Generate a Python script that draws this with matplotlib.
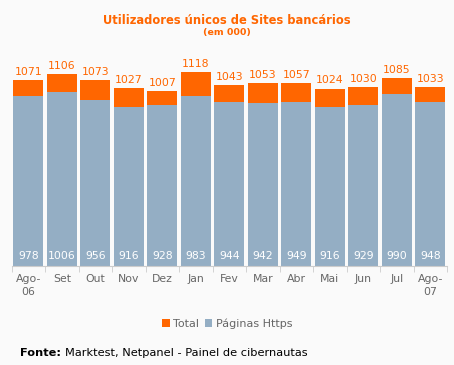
import matplotlib.pyplot as plt
import numpy as np

meses = ["Ago-\n06", "Set", "Out", "Nov", "Dez", "Jan", "Fev", "Mar", "Abr",
         "Mai", "Jun", "Jul", "Ago-\n07"]
total = [1071, 1106, 1073, 1027, 1007, 1118, 1043, 1053, 1057, 1024, 1030, 1085, 1033]
https = [978, 1006, 956, 916, 928, 983, 944, 942, 949, 916, 929, 990, 948]

laranja = "#FF6600"
azul = "#94AEC4"
fundo = "#FAFAFA"

fig = plt.figure(figsize=(4.54, 3.65), dpi=100, facecolor=fundo)
ax = fig.add_axes([11.5 / 454, 1 - 266 / 365, 435.5 / 454, 208 / 365], facecolor=fundo)

x = np.arange(len(meses))
resto = [t - h for t, h in zip(total, https)]
ax.bar(x, https, width=0.91, color=azul, label="Páginas Https")
ax.bar(x, resto, bottom=https, width=0.91, color=laranja, label="Total")

for i in x:
    ax.text(i, total[i] + 18, str(total[i]), ha="center", va="bottom",
            color=laranja, fontsize=7.8)
    ax.text(i, 30, str(https[i]), ha="center", va="bottom",
            color="white", fontsize=7.8)

ax.set_xlim(-0.5, len(meses) - 0.5)
ax.set_ylim(0, 1200)
ax.set_yticks([])
ax.set_xticks(x)
ax.set_xticklabels(meses, color="#666666", fontsize=7.8, linespacing=1.35)
ax.set_xticks(np.arange(len(meses) + 1) - 0.5, minor=True)
ax.tick_params(axis="x", which="major", length=0, pad=6)
ax.tick_params(axis="x", which="minor", length=4, color="#CCCCCC")
for s in ["top", "left", "right"]:
    ax.spines[s].set_visible(False)
ax.spines["bottom"].set_color("#CCCCCC")

fig.text(0.5, 1 - 20 / 365, "Utilizadores únicos de Sites bancários", ha="center",
         va="center", color=laranja, fontsize=8.3, fontweight="bold")
fig.text(0.5, 1 - 33 / 365, "(em 000)", ha="center", va="center",
         color=laranja, fontsize=6.8, fontweight="bold")

handles, labels = ax.get_legend_handles_labels()
fig.legend(handles[::-1], labels[::-1], loc="center", bbox_to_anchor=(0.5, 1 - 324 / 365),
           ncol=2, frameon=False, fontsize=8, handlelength=0.7, handleheight=0.7,
           handletextpad=0.3, columnspacing=0.5, labelcolor="#666666")

# fonte: parte em negrito + resto
t = fig.text(20 / 454, 1 - 353 / 365, "Fonte:", ha="left", va="center",
             fontsize=8.2, fontweight="bold", color="black")
fig.canvas.draw()
bb = t.get_window_extent()
fig.text((bb.x1 + 4) / 454, 1 - 353 / 365, "Marktest, Netpanel - Painel de cibernautas",
         ha="left", va="center", fontsize=8.2, color="black")

fig.savefig("out.png", dpi=100, facecolor=fundo)
